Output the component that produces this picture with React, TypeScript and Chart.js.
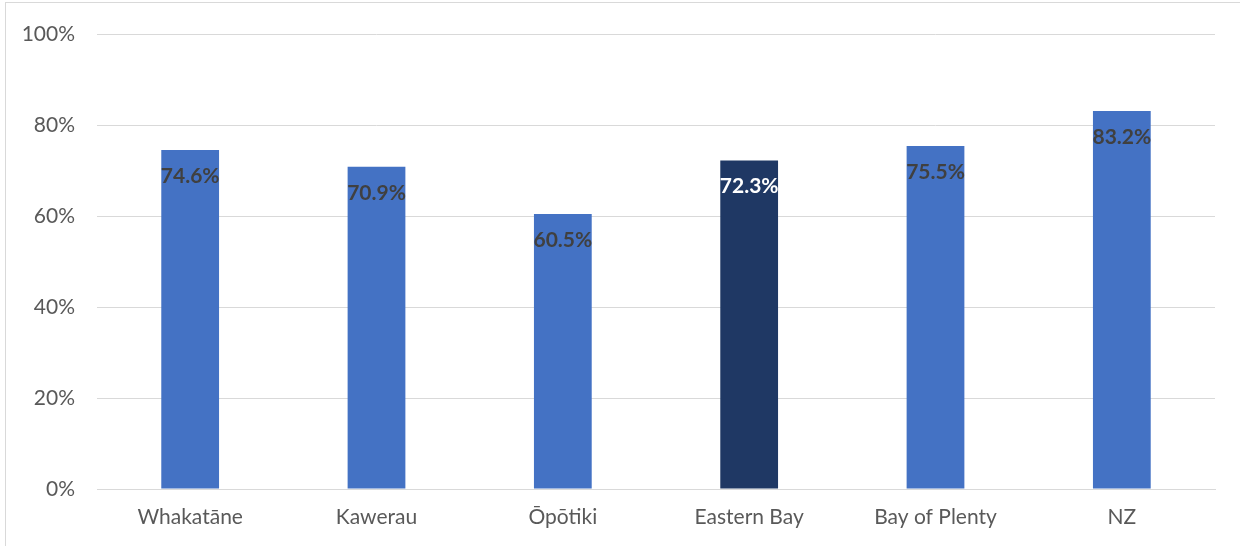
import React, { useEffect, useRef } from "react";
import { Chart, registerables } from "chart.js";

Chart.register(...registerables);

const categories = ["Whakatāne", "Kawerau", "Ōpōtiki", "Eastern Bay", "Bay of Plenty", "NZ"];
const values = [74.6, 70.9, 60.5, 72.3, 75.5, 83.2];
const barColors = ["#4472C4", "#4472C4", "#4472C4", "#1F3864", "#4472C4", "#4472C4"];
const labelColors = ["#404040", "#404040", "#404040", "#FFFFFF", "#404040", "#404040"];

const FONT = "Lato, 'Open Sans', sans-serif";

const labelPlugin = {
  id: "barLabels",
  afterDatasetsDraw(chart: any) {
    const ctx = chart.ctx;
    const meta = chart.getDatasetMeta(0);
    ctx.save();
    ctx.font = `bold 21px ${FONT}`;
    ctx.textAlign = "center";
    ctx.textBaseline = "middle";
    meta.data.forEach((bar: any, i: number) => {
      ctx.fillStyle = labelColors[i];
      ctx.fillText(values[i].toFixed(1) + "%", bar.x, bar.y + 26);
    });
    ctx.restore();
  },
};

export default function App() {
  const ref = useRef<HTMLCanvasElement>(null);
  useEffect(() => {
    const chart = new Chart(ref.current!, {
      type: "bar",
      data: {
        labels: categories,
        datasets: [
          {
            data: values,
            backgroundColor: barColors,
            barPercentage: 0.31,
            categoryPercentage: 1,
          },
        ],
      },
      options: {
        animation: false,
        responsive: false,
        layout: { padding: { left: 0, right: 25, top: 10, bottom: 0 } },
        plugins: { legend: { display: false }, tooltip: { enabled: false } },
        scales: {
          x: {
            grid: { display: false, drawTicks: false },
            border: { display: true, color: "#d9d9d9", width: 1 },
            ticks: { color: "#595959", font: { family: FONT, size: 21 }, padding: 16 },
            afterFit(scale: any) {
              scale.height = 57;
            },
          },
          y: {
            min: 0,
            max: 100,
            grid: { color: "#d9d9d9", drawTicks: false },
            border: { display: false },
            ticks: {
              stepSize: 20,
              color: "#595959",
              font: { family: FONT, size: 21 },
              padding: 22,
              callback: (v: any) => v + "%",
            },
            afterFit(scale: any) {
              scale.width = 97;
            },
          },
        },
      },
      plugins: [labelPlugin],
    });
    return () => chart.destroy();
  }, []);
  return (
    <div style={{ position: "fixed", left: 0, top: 0, width: 1240, height: 546, background: "#fff", overflow: "hidden" }}>
      <div
        style={{
          position: "absolute",
          left: 5,
          top: 2,
          width: 1260,
          height: 560,
          border: "1px solid #d9d9d9",
          boxSizing: "border-box",
        }}
      />
      <canvas ref={ref} width={1240} height={546} style={{ position: "absolute", left: 0, top: 0 }} />
    </div>
  );
}
